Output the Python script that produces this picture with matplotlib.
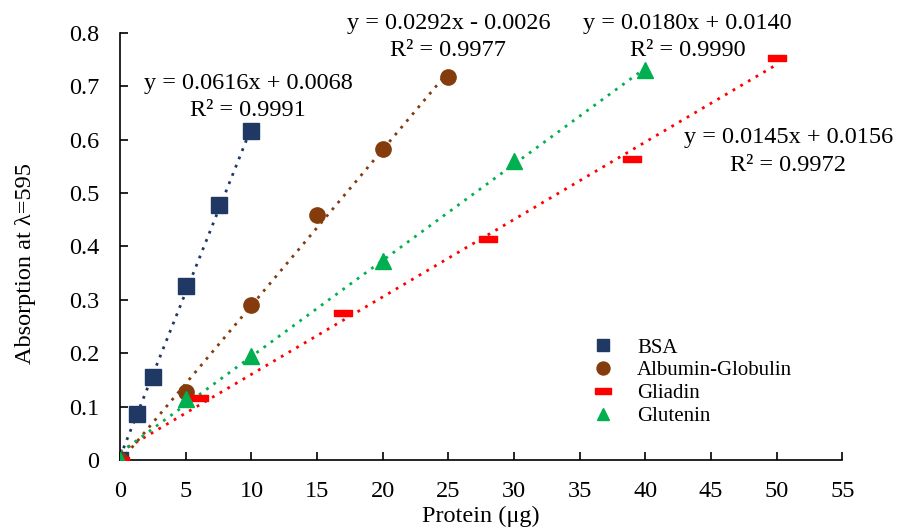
import numpy as np
import matplotlib
matplotlib.use("Agg")
import matplotlib.pyplot as plt

plt.rcParams.update({"font.family": ["Liberation Serif", "DejaVu Serif"], "font.size": 17.5})

# data
bsa_x = [0, 1.25, 2.5, 5, 7.5, 10]
bsa_y = [0, 0.087, 0.156, 0.325, 0.477, 0.616]
alb_x = [0, 5, 10, 15, 20, 25]
alb_y = [0, 0.127, 0.290, 0.458, 0.582, 0.718]
gli_x = [0, 6, 17, 28, 39, 50]
gli_y = [0, 0.116, 0.275, 0.414, 0.563, 0.752]
glu_x = [0, 5, 10, 20, 30, 40]
glu_y = [0, 0.115, 0.195, 0.373, 0.560, 0.730]

names = ["BSA", "Albumin-Globulin", "Gliadin", "Glutenin"]
slopes = [0.0616, 0.0292, 0.0145, 0.0180]
intercepts = [0.0068, -0.0026, 0.0156, 0.0140]
r2 = [0.9991, 0.9977, 0.9972, 0.9990]

colors = ["#1F3864", "#843C0C", "#FF0000", "#00B050"]
dash = [(-1.5, -0.5), (1.5, -0.5), (1.5, 0.5), (-1.5, 0.5), (-1.5, -0.5)]
markers = ["s", "o", dash, "^"]
msizes = [11, 11, 13, 11]
# label centres (data coords)
lab_pos = [(9.75, 0.680), (25.0, 0.792), (50.9, 0.578), (43.2, 0.792)]

fig = plt.figure(figsize=(8.97, 5.30), dpi=100)
ax = fig.add_axes([0.134, 0.132, 0.805, 0.806])

series = [(bsa_x, bsa_y), (alb_x, alb_y), (gli_x, gli_y), (glu_x, glu_y)]
for i, (xs, ys) in enumerate(series):
    xs = np.array(xs); ys = np.array(ys)
    xl = np.array([xs.min(), xs.max()])
    ax.plot(xl, slopes[i]*xl + intercepts[i], ls=(0, (1, 2.2)), color=colors[i], lw=2.0, zorder=2)
    ax.plot(xs, ys, ls="none", marker=markers[i], ms=msizes[i], color=colors[i],
            mec=colors[i], label=names[i], zorder=3)
    sign = "+" if intercepts[i] >= 0 else "-"
    txt = f"y = {slopes[i]:.4f}x {sign} {abs(intercepts[i]):.4f}\nR² = {r2[i]:.4f}"
    ax.text(lab_pos[i][0], lab_pos[i][1], txt, ha="center", va="center",
            multialignment="center", linespacing=1.42, fontsize=17.5)

ax.set_xlim(0, 55); ax.set_ylim(0, 0.8)
ax.set_xticks(np.arange(0, 56, 5))
ax.set_yticks(np.arange(0, 0.81, 0.1))
ax.set_yticklabels(["0"] + [f"{v:.1f}" for v in np.arange(0.1, 0.81, 0.1)])
ax.tick_params(direction="in", length=6, width=1.2, labelsize=17.5, pad=15)
for s in ["top", "right"]:
    ax.spines[s].set_visible(False)
for s in ["left", "bottom"]:
    ax.spines[s].set_linewidth(1.2)

ax.set_xlabel("Protein (μg)", fontsize=17.5)
ax.set_ylabel("Absorption at λ=595", fontsize=17.5)
ax.yaxis.set_label_coords(-0.117, 0.46)
ax.xaxis.set_label_coords(0.5, -0.108)

ax.legend(loc="upper left", bbox_to_anchor=(0.635, 0.305), frameon=False, fontsize=15,
          handletextpad=0.9, labelspacing=0.15, borderaxespad=0, handlelength=1.5,
          markerscale=0.85)

fig.savefig("out.png", dpi=100)
